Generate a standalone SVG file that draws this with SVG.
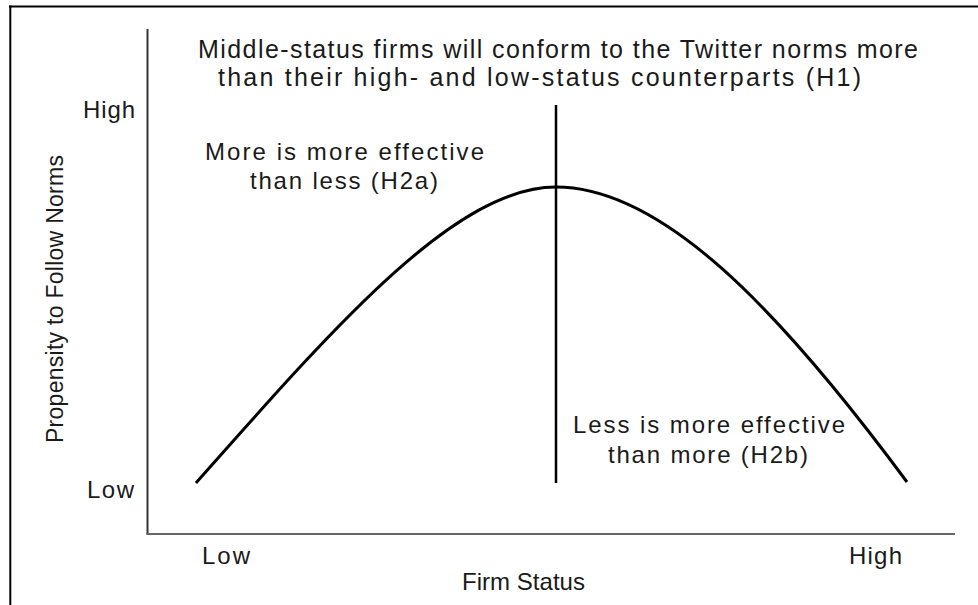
<svg xmlns="http://www.w3.org/2000/svg" width="978" height="605" viewBox="0 0 978 605">
  <style>
    text { font-family: "Liberation Sans", Arial, sans-serif; fill: #1a1a1a; }
    .t { font-size: 25px; }
    .l { font-size: 24px; }
    .y { font-size: 23px; }
    .frame { stroke: #000; stroke-width: 2; fill: none; }
    .axis { fill: none; stroke-width: 2; }
    .ink { fill: none; stroke: #000; stroke-linecap: butt; }
  </style>

  <rect width="978" height="605" fill="#fff"/>

  <!-- outer frame (top and left edges) -->
  <g id="frame">
    <line class="frame" x1="9" y1="6.5" x2="978" y2="6.5"/>
    <line class="frame" x1="10.3" y1="5.5" x2="10.3" y2="605"/>
  </g>

  <!-- axes -->
  <g id="axes">
    <line class="axis" x1="147.5" y1="29" x2="147.5" y2="534.5" stroke="#333"/>
    <line class="axis" x1="146.5" y1="534" x2="955" y2="534" stroke="#666"/>
  </g>

  <!-- inverted-U curve and the midpoint divider -->
  <g id="connectors">
    <path id="curve" class="ink" stroke-width="3"
      d="M196,483 C336,324.8 456,187 556,187 C661,187 777,306.5 907,482"/>
    <line id="divider" class="ink" stroke-width="2.5" x1="556" y1="105" x2="556" y2="483"/>
  </g>

  <!-- hypothesis H1 -->
  <g id="h1">
    <text class="t" x="198" y="58" textLength="720" lengthAdjust="spacing">Middle-status firms will conform to the Twitter norms more</text>
    <text class="t" x="218" y="86" textLength="643" lengthAdjust="spacing">than their high- and low-status counterparts (H1)</text>
  </g>

  <!-- hypothesis H2a -->
  <g id="h2a">
    <text class="l" x="205" y="160" textLength="279" lengthAdjust="spacing">More is more effective</text>
    <text class="l" x="250" y="189" textLength="188" lengthAdjust="spacing">than less (H2a)</text>
  </g>

  <!-- hypothesis H2b -->
  <g id="h2b">
    <text class="l" x="573" y="433" textLength="272" lengthAdjust="spacing">Less is more effective</text>
    <text class="l" x="608" y="463" textLength="200" lengthAdjust="spacing">than more (H2b)</text>
  </g>

  <!-- y-axis labels -->
  <g id="y-labels">
    <text class="l" x="83" y="118" textLength="52" lengthAdjust="spacing">High</text>
    <text class="l" x="87" y="498" textLength="47" lengthAdjust="spacing">Low</text>
    <text class="y" transform="translate(63,443) rotate(-90)" textLength="288" lengthAdjust="spacing">Propensity to Follow Norms</text>
  </g>

  <!-- x-axis labels -->
  <g id="x-labels">
    <text class="l" x="202" y="564" textLength="48" lengthAdjust="spacing">Low</text>
    <text class="l" x="849" y="564" textLength="53" lengthAdjust="spacing">High</text>
    <text class="l" x="462" y="590" textLength="123" lengthAdjust="spacing">Firm Status</text>
  </g>
</svg>
